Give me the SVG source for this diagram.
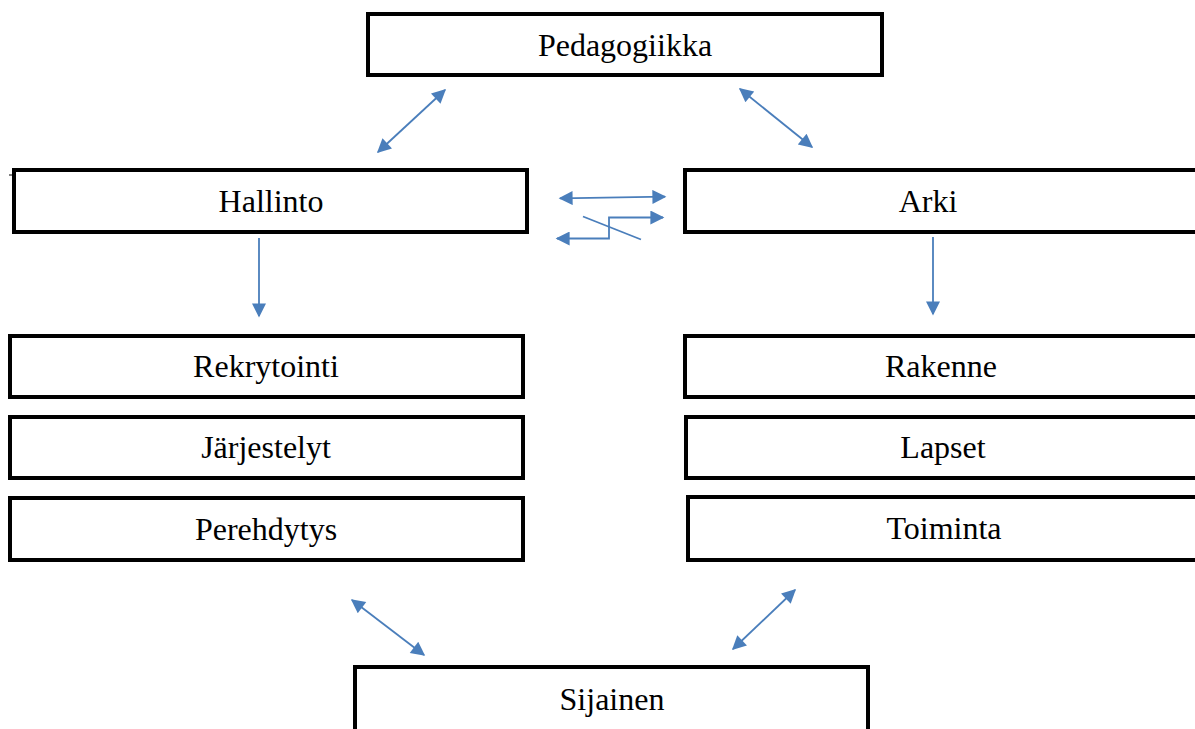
<svg xmlns="http://www.w3.org/2000/svg" width="1195" height="729" viewBox="0 0 1195 729">
  <style>
    .box { fill: #ffffff; stroke: #000000; stroke-width: 4; }
    .lbl { font-family: "Liberation Serif", "Times New Roman", serif; font-size: 32px; fill: #000000; text-anchor: middle; }
    .conn { fill: none; stroke: #4A7EBB; stroke-width: 1.8; }
  </style>
  <defs>
    <marker id="bighead" viewBox="0 0 10 10" refX="9" refY="5" markerWidth="17" markerHeight="14" markerUnits="userSpaceOnUse" orient="auto-start-reverse">
      <path d="M0,0 L10,5 L0,10 z" fill="#4A7EBB"/>
    </marker>
  </defs>
  <rect width="1195" height="729" fill="#ffffff"/>

  <g id="pedagogiikka">
    <rect class="box" x="368" y="14" width="514" height="61"/>
    <text class="lbl" x="625" y="56">Pedagogiikka</text>
  </g>
  <g id="hallinto">
    <rect class="box" x="14" y="170" width="513" height="62"/>
    <line x1="9" y1="175" x2="13" y2="175" stroke="#000" stroke-width="1"/>
    <text class="lbl" x="271" y="212">Hallinto</text>
  </g>
  <g id="arki">
    <rect class="box" x="685" y="170" width="520" height="62"/>
    <text class="lbl" x="928" y="212">Arki</text>
  </g>
  <g id="rekrytointi">
    <rect class="box" x="10" y="336" width="513" height="61"/>
    <text class="lbl" x="266" y="377">Rekrytointi</text>
  </g>
  <g id="jarjestelyt">
    <rect class="box" x="10" y="417" width="513" height="61"/>
    <text class="lbl" x="266" y="458">Järjestelyt</text>
  </g>
  <g id="perehdytys">
    <rect class="box" x="10" y="498" width="513" height="62"/>
    <text class="lbl" x="266" y="540">Perehdytys</text>
  </g>
  <g id="rakenne">
    <rect class="box" x="685" y="336" width="520" height="61"/>
    <text class="lbl" x="941" y="377">Rakenne</text>
  </g>
  <g id="lapset">
    <rect class="box" x="686" y="417" width="520" height="61"/>
    <text class="lbl" x="943" y="458">Lapset</text>
  </g>
  <g id="toiminta">
    <rect class="box" x="688" y="497" width="520" height="63"/>
    <text class="lbl" x="944" y="539">Toiminta</text>
  </g>
  <g id="sijainen">
    <rect class="box" x="355" y="667" width="513" height="80"/>
    <text class="lbl" x="612" y="710">Sijainen</text>
  </g>

  <g id="connectors">
    <!-- diagonal two-way links -->
    <line class="conn" x1="445" y1="90" x2="378" y2="152" marker-start="url(#bighead)" marker-end="url(#bighead)"/>
    <line class="conn" x1="740" y1="89" x2="812" y2="147" marker-start="url(#bighead)" marker-end="url(#bighead)"/>
    <line class="conn" x1="352" y1="600" x2="424" y2="655" marker-start="url(#bighead)" marker-end="url(#bighead)"/>
    <line class="conn" x1="795" y1="590" x2="733" y2="649" marker-start="url(#bighead)" marker-end="url(#bighead)"/>
    <!-- downward links -->
    <line class="conn" x1="259" y1="238" x2="259" y2="316" marker-end="url(#bighead)"/>
    <line class="conn" x1="933" y1="237" x2="933" y2="314" marker-end="url(#bighead)"/>
    <!-- Hallinto / Arki exchange -->
    <line class="conn" x1="560" y1="198.3" x2="665" y2="196.7" marker-start="url(#bighead)" marker-end="url(#bighead)"/>
    <polyline class="conn" points="557,238.5 609,238.5 609,217.5 663,217.5" marker-start="url(#bighead)" marker-end="url(#bighead)"/>
    <line class="conn" x1="583" y1="216.5" x2="641" y2="239.5"/>
  </g>
</svg>
